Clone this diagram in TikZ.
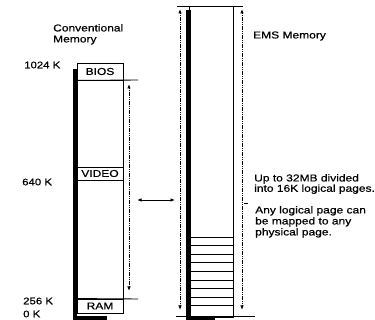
\documentclass[tikz,border=0pt]{standalone}
\usepackage{fontspec}
\setmainfont{Liberation Sans}[FakeStretch=1.2,FakeBold=0.6]
\usetikzlibrary{arrows.meta}
\begin{document}
\begin{tikzpicture}[x=1pt,y=-1pt,
  txt/.style={font=\fontsize{10}{11}\selectfont, inner sep=0pt, align=left},
  lbl/.style={font=\fontsize{9.5}{11}\selectfont, inner sep=0pt, anchor=west},
  membox/.style={draw, line width=0.9pt, inner sep=0pt},
  heavy/.style={line width=4.5pt, line join=miter},
  rule/.style={line width=0.9pt},
  span/.style={dash pattern=on 1.2pt off 0.6pt, line width=0.9pt, {Latex[length=4.5pt,width=3.5pt]}-{Latex[length=4.5pt,width=3.5pt]}},
  maparrow/.style={line width=0.9pt, {Latex[length=4.5pt,width=3.5pt]}-{Latex[length=4.5pt,width=3.5pt]}}
]
\useasboundingbox (0,0) rectangle (375,320);

% ---------- Conventional memory column ----------
\node[membox, minimum width=46pt, minimum height=250pt] (conv) at (100,188) {};
\node[membox, minimum width=46pt, minimum height=17pt, txt] (bios) at (100,71.5) {BIOS};
\node[membox, minimum width=46pt, minimum height=13pt, txt] (video) at (100,173.5) {VIDEO};
\node[membox, minimum width=46pt, minimum height=14pt, txt] (ram) at (100,306) {RAM};
\draw[heavy] (75,69) -- (75,318.5) -- (107,318.5);
\draw[rule] (bios.south west) -- (138,80);
\draw[rule] (ram.north west) -- (138,299);
\coordinate (ctop) at (129,84);
\coordinate (cbot) at (129,291);
\draw[span] (ctop) -- (cbot);

\node[txt, anchor=north west] (convlbl) at (53,24) {Conventional\\Memory};
\node[lbl] (k1024) at (24,65) {1024 K};
\node[lbl] (k640) at (22,182) {640 K};
\node[lbl] (k256) at (23,301) {256 K};
\node[lbl] (k0) at (23,314) {0 K};

% ---------- EMS memory column ----------
\node[membox, minimum width=44pt, minimum height=311pt] (ems) at (211,161.5) {};
\draw[rule] (177,6) -- (243,6);
\draw[rule] (176,316.5) -- (255,316.5);
\foreach \k in {0,...,8} {
  \draw[rule] (191,237+8.6*\k) -- (233,237+8.6*\k);
}
\draw[heavy] (188.5,10) -- (188.5,318.5) -- (215,318.5);
\coordinate (eltop) at (180,9);
\coordinate (elbot) at (180,310);
\coordinate (ertop) at (242,9);
\coordinate (erbot) at (242,310);
\draw[span] (eltop) -- (elbot);
\draw[span] (ertop) -- (erbot);
\draw[rule] (244,203) -- (248,203);

% mapping arrow
\coordinate (mapl) at (137,200);
\coordinate (mapr) at (175,200);
\draw[maparrow] (mapl) -- (mapr);

\node[txt, anchor=west] (emslbl) at (253,36) {EMS Memory};
\node[txt, anchor=north west, font=\fontsize{10}{9}\selectfont] (desc1) at (254,174) {Up to 32MB divided\\into 16K logical pages.};
\node[txt, anchor=north west, font=\fontsize{10}{11}\selectfont] (desc2) at (255,206) {Any logical page can\\be mapped to any\\physical page.};
\end{tikzpicture}
\end{document}
